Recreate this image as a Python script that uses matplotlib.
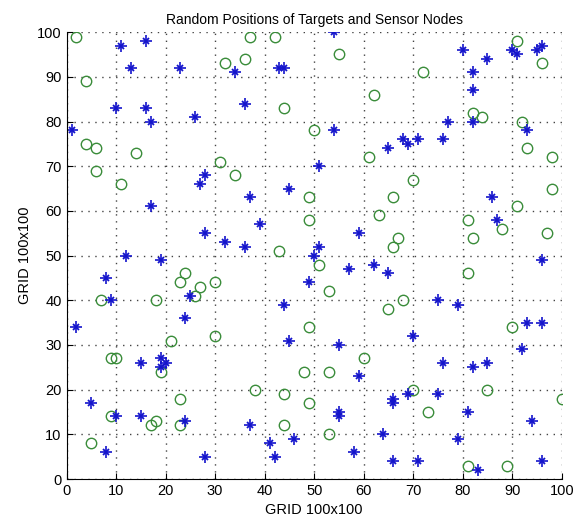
import matplotlib
matplotlib.use('Agg')
import matplotlib.pyplot as plt
import numpy as np

# sensor nodes (blue stars)
sensor_x = [11, 16, 13, 23, 34, 10, 16, 17, 26, 1, 28, 27, 54, 43, 44, 36, 54, 68, 65, 51, 45, 37,
            80, 85, 90, 91, 95, 96, 82, 82, 82, 77, 93, 69, 71, 76, 86, 17, 28, 32, 12, 19, 8, 25, 9,
            24, 2, 39, 59, 36, 51, 50, 57, 62, 65, 49, 44, 45, 55, 87, 96, 75, 79, 93, 96, 70, 92,
            15, 19, 20, 19, 5, 10, 15, 24, 8, 28, 59, 55, 55, 66, 66, 37, 46, 41, 42, 64, 58, 66,
            76, 82, 85, 69, 75, 81, 94, 79, 71, 83, 96]
sensor_y = [97, 98, 92, 92, 91, 83, 83, 80, 81, 78, 68, 66, 100, 92, 92, 84, 78, 76, 74, 70, 65, 63,
            96, 94, 96, 95, 96, 97, 91, 87, 80, 80, 78, 75, 76, 76, 63, 61, 55, 53, 50, 49, 45, 41, 40,
            36, 34, 57, 55, 52, 52, 50, 47, 48, 46, 44, 39, 31, 30, 58, 49, 40, 39, 35, 35, 32, 29,
            26, 27, 26, 25, 17, 14, 14, 13, 6, 5, 23, 15, 14, 18, 17, 12, 9, 8, 5, 10, 6, 4,
            26, 25, 26, 19, 19, 15, 13, 9, 4, 2, 4]

# targets (green circles)
target_x = [2, 32, 4, 4, 6, 14, 6, 11, 31, 34, 37, 42, 55, 36, 44, 62, 50, 61, 91, 96, 72, 82, 84,
            92, 93, 98, 70, 98, 49, 66, 49, 63, 67, 66, 43, 51, 53, 68, 65, 49, 91, 81, 88, 82, 97,
            81, 90, 24, 23, 27, 26, 30, 7, 18, 21, 30, 9, 10, 19, 23, 9, 18, 17, 23, 5, 60, 48,
            53, 38, 44, 49, 44, 53, 70, 85, 100, 73, 81, 89]
target_y = [99, 93, 89, 75, 74, 73, 69, 66, 71, 68, 99, 99, 95, 94, 83, 86, 78, 72, 98, 93, 91, 82, 81,
            80, 74, 72, 67, 65, 63, 63, 58, 59, 54, 52, 51, 48, 42, 40, 38, 34, 61, 58, 56, 54, 55,
            46, 34, 46, 44, 43, 41, 44, 40, 40, 31, 32, 27, 27, 24, 18, 14, 13, 12, 12, 8, 27, 24,
            24, 20, 19, 17, 12, 10, 20, 20, 18, 15, 3, 3]

plt.rcParams['font.family'] = ['Liberation Sans', 'DejaVu Sans']

fig = plt.figure(figsize=(5.74, 5.27), dpi=100)
ax = fig.add_axes([0.116, 0.091, 0.8626, 0.848])

ax.plot(target_x, target_y, 'o', markersize=7.5, markerfacecolor='none',
        markeredgecolor='#3a8c3a', markeredgewidth=1.0, linestyle='none')
ax.plot(sensor_x, sensor_y, '+', markersize=9, color='#1414cc', markeredgewidth=1.2, linestyle='none')
ax.plot(sensor_x, sensor_y, 'x', markersize=4.5, color='#1414cc', markeredgewidth=1.3, linestyle='none')

ax.set_xlim(0, 100)
ax.set_ylim(0, 100)
ax.set_xticks(np.arange(0, 101, 10))
ax.set_yticks(np.arange(0, 101, 10))
ax.grid(True, linestyle=(0, (1, 4)), color='#444444', linewidth=1.0)
ax.spines['top'].set_visible(False)
ax.spines['right'].set_visible(False)
ax.tick_params(direction='in', length=4, labelsize=10.5)

ax.set_title('Random Positions of Targets and Sensor Nodes', fontsize=10)
ax.set_xlabel('GRID 100x100', fontsize=10.5)
ax.set_ylabel('GRID 100x100', fontsize=10.5)

fig.savefig('out.png', dpi=100)
